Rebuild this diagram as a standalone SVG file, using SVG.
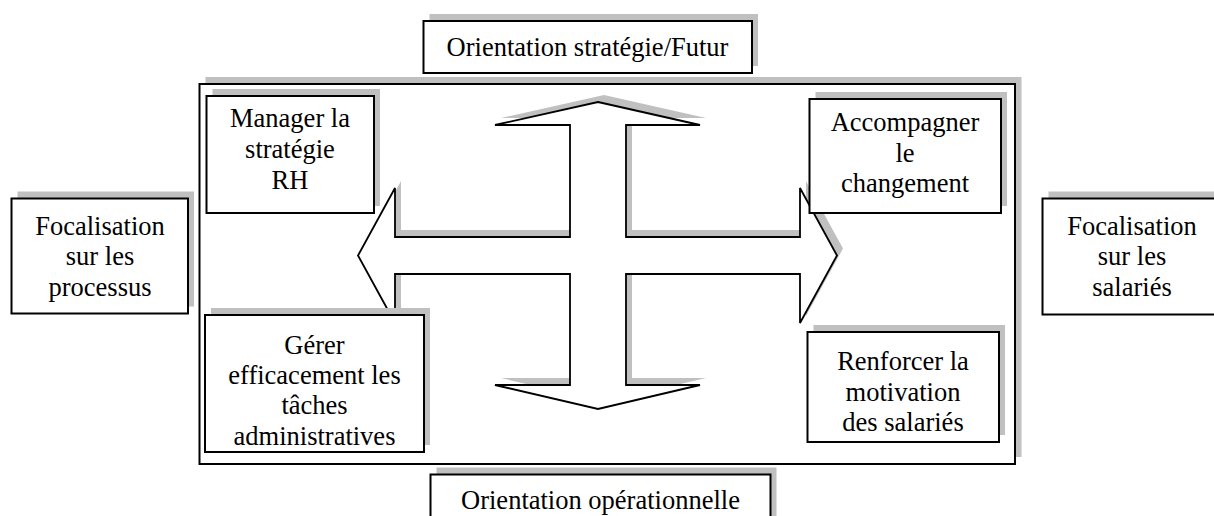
<svg xmlns="http://www.w3.org/2000/svg" width="1214" height="516" viewBox="0 0 1214 516">
<defs>
<style>
.sh{fill:#c0c0c0;stroke:none}
.bx{fill:#fff;stroke:#000;stroke-width:2}
.ar{fill:#fff;stroke:#000;stroke-width:1.8;stroke-linejoin:miter}
.t{font-family:"Liberation Serif","Times New Roman",serif;font-size:26.5px;fill:#000;text-anchor:middle}
</style>
<polygon id="cross" points="598,102 700,125 626,125 626,237 800,237 800,188 837,255.5 800,323 800,274 626,274 626,385 700,385 598,409 495,385 570,385 570,274 395,274 395,323 358,255.5 395,188 395,237 570,237 570,125 495,125"/>
</defs>
<rect width="1214" height="516" fill="#fff"/>
<g id="frame">
<rect class="sh" x="205.5" y="77" width="816" height="380"/>
<rect class="bx" x="199.5" y="84" width="815.5" height="380"/>
</g>
<g id="connectors">
<use href="#cross" class="sh" transform="translate(6,-7)"/>
<use href="#cross" class="ar"/>
</g>
<g id="n-orient-strat">
<rect class="sh" x="429.5" y="14" width="328.5" height="52"/>
<rect class="bx" x="423.5" y="21" width="328.5" height="52"/>
<text class="t" x="587.5" y="56">Orientation stratégie/Futur</text>
</g>
<g id="n-manager">
<rect class="sh" x="212.5" y="89" width="167.5" height="117"/>
<rect class="bx" x="206.5" y="96" width="167.5" height="117"/>
<text class="t" x="290" y="127">Manager la</text>
<text class="t" x="290" y="158">stratégie</text>
<text class="t" x="290" y="189">RH</text>
</g>
<g id="n-accomp">
<rect class="sh" x="815.5" y="92" width="191.5" height="114"/>
<rect class="bx" x="809.5" y="99" width="191.5" height="114"/>
<text class="t" x="905" y="131">Accompagner</text>
<text class="t" x="905" y="162">le</text>
<text class="t" x="905" y="192">changement</text>
</g>
<g id="n-gerer">
<rect class="sh" x="211" y="308" width="219" height="137"/>
<rect class="bx" x="205" y="315" width="219" height="137"/>
<text class="t" x="314.5" y="354">Gérer</text>
<text class="t" x="314.5" y="384">efficacement les</text>
<text class="t" x="314.5" y="414">tâches</text>
<text class="t" x="314.5" y="445">administratives</text>
</g>
<g id="n-renforcer">
<rect class="sh" x="813.5" y="325" width="191.5" height="110"/>
<rect class="bx" x="807.5" y="332" width="191.5" height="110"/>
<text class="t" x="903" y="370">Renforcer la</text>
<text class="t" x="903" y="401">motivation</text>
<text class="t" x="903" y="431">des salariés</text>
</g>
<g id="n-focal-proc">
<rect class="sh" x="17.5" y="191.5" width="176.5" height="115"/>
<rect class="bx" x="11.5" y="198.5" width="176.5" height="115"/>
<text class="t" x="100" y="235">Focalisation</text>
<text class="t" x="100" y="265">sur les</text>
<text class="t" x="100" y="296">processus</text>
</g>
<g id="n-focal-sal">
<rect class="sh" x="1048.5" y="191.5" width="176.5" height="116"/>
<rect class="bx" x="1042.5" y="198.5" width="176.5" height="116"/>
<text class="t" x="1132" y="235">Focalisation</text>
<text class="t" x="1132" y="265">sur les</text>
<text class="t" x="1132" y="296">salariés</text>
</g>
<g id="n-orient-op">
<rect class="sh" x="436.5" y="467.5" width="340" height="60"/>
<rect class="bx" x="430.5" y="474.5" width="340" height="60"/>
<text class="t" x="600.5" y="509">Orientation opérationnelle</text>
</g>
</svg>
